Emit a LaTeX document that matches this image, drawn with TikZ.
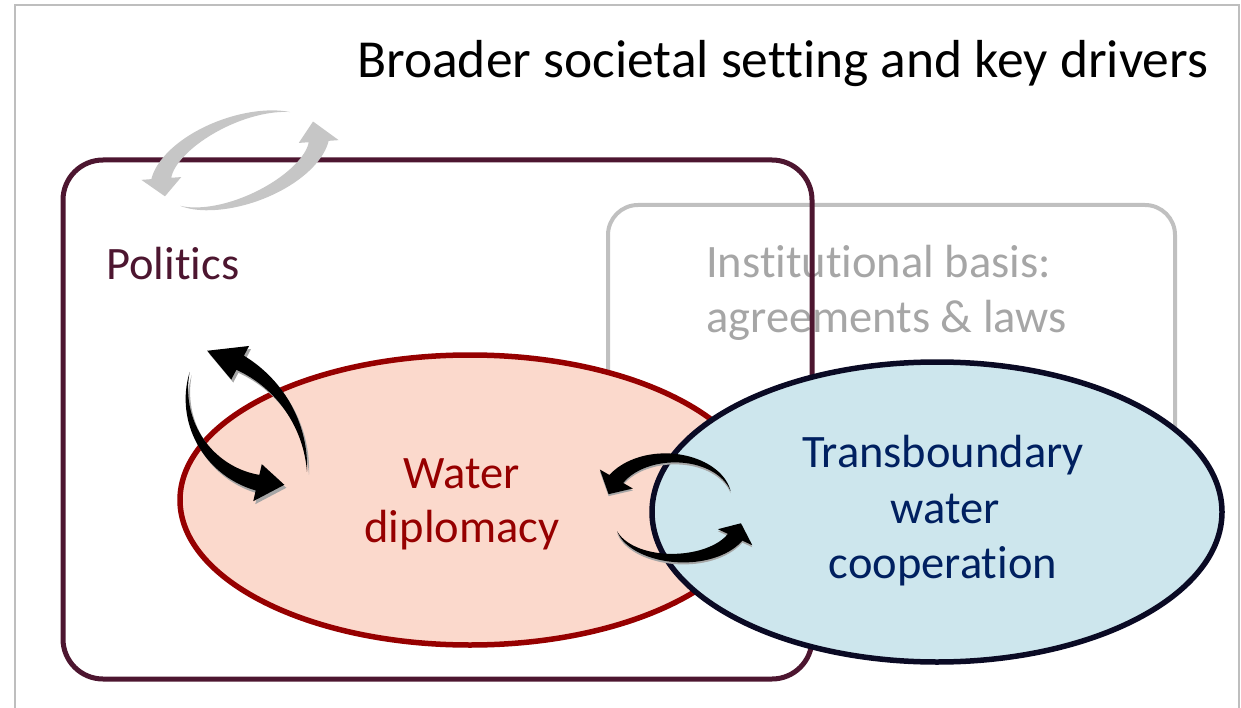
\documentclass[tikz,border=0pt]{standalone}
\usepackage{fontspec}
\setmainfont{Carlito}[Ligatures={NoCommon,NoContextual}]
\usetikzlibrary{shapes.geometric}
\definecolor{polcol}{RGB}{77,22,48}
\definecolor{instcol}{RGB}{192,192,192}
\definecolor{insttext}{RGB}{166,166,166}
\definecolor{pinkfill}{RGB}{251,217,204}
\definecolor{redcol}{RGB}{150,0,0}
\definecolor{bluefill}{RGB}{205,230,237}
\definecolor{navyline}{RGB}{10,10,36}
\definecolor{navytext}{RGB}{0,32,96}
\definecolor{framecol}{RGB}{190,190,190}
\definecolor{arrowgray}{RGB}{198,198,198}
% #1 scope options, #2 rx, #3 ry, #4 tail angle, #5 head base angle, #6 tip angle,
% #7 body half width at head, #8 head half width, #9 fill options
\newcommand{\sweeparrow}[9]{%
  \begin{scope}[#1]
    \fill[#9]
      plot[domain=0:1,samples=40] ({(#2+#7*\x)*cos(#4+(#5-#4)*\x)},{(#3+#7*\x)*sin(#4+(#5-#4)*\x)})
      -- ({(#2+#8)*cos(#5)},{(#3+#8)*sin(#5)})
      -- ({#2*cos(#6)},{#3*sin(#6)})
      -- ({(#2-#8)*cos(#5)},{(#3-#8)*sin(#5)})
      -- plot[domain=0:1,samples=40] ({(#2-#7*(1-\x))*cos(#5+(#4-#5)*\x)},{(#3-#7*(1-\x))*sin(#5+(#4-#5)*\x)})
      -- cycle;
  \end{scope}}
\begin{document}
\begin{tikzpicture}[x=1pt,y=-1pt,
  txt/.style={inner sep=0pt,font=\fontsize{46.5}{55}\selectfont},
  boxpol/.style={draw=polcol,line width=5pt,rounded corners=40pt,rectangle,inner sep=0pt},
  boxinst/.style={draw=instcol,line width=4pt,rounded corners=30pt,rectangle,inner sep=0pt},
  ovl/.style={ellipse,line width=5.5pt,inner sep=0pt}]
\useasboundingbox (0,0) rectangle (1241,708);
% outer frame
\draw[framecol,line width=1.5pt] (15,708) -- (15,5) -- (1239,5) -- (1239,708);
% title
\node[txt,anchor=base west,font=\fontsize{53.5}{64}\selectfont] (title) at (357,78) {Broader societal sett\kern0pt ing and key drivers};
% institutional box
\node[boxinst,minimum width=567pt,minimum height=335pt] (inst) at (891.5,372.5) {};
\node[txt,anchor=base west,text=insttext] (insttxt1) at (706,278) {Inst\kern0pt it\kern0pt ut\kern0pt ional basis:};
\node[txt,anchor=base west,text=insttext] (insttxt2) at (706,332) {agreements \& laws};
% politics box
\node[boxpol,minimum width=749pt,minimum height=519pt] (pol) at (437.5,419.5) {};
\node[txt,anchor=base west,text=polcol] (poltxt) at (106,280) {Polit\kern0pt ics};
% ellipses
\node[ovl,draw=redcol,fill=pinkfill,minimum width=580pt,minimum height=290pt] (wd) at (470,500) {};
\node[ovl,draw=navyline,fill=bluefill,minimum width=570pt,minimum height=300pt] (twc) at (937,512) {};
% texts in ellipses
\node[txt,anchor=base,text=redcol] (wd1) at (462,488) {Water};
\node[txt,anchor=base,text=redcol] (wd2) at (462,542) {diplomacy};
\node[txt,anchor=base,text=navytext] (twc1) at (943,467) {Transboundary};
\node[txt,anchor=base,text=navytext] (twc2) at (945,523) {water};
\node[txt,anchor=base,text=navytext] (twc3) at (943,578) {cooperat\kern0pt ion};
% gray cycle arrows (top left)
\sweeparrow{shift={(240,160)},rotate=22}{84}{40}{-40}{-162}{-188}{10}{20}{arrowgray}
\sweeparrow{shift={(240,160)},rotate=22}{84}{40}{150}{18}{-12}{10}{20}{arrowgray}
% black arrows, politics <-> water diplomacy
\sweeparrow{shift={(183,477)}}{126}{126}{-1}{-62}{-78}{8}{19}{gray!70}
\sweeparrow{shift={(181,474)}}{126}{126}{-1}{-62}{-78}{8}{19}{black}
\sweeparrow{shift={(280,397)}}{91}{91}{194}{103}{86}{8}{19}{gray!70}
\sweeparrow{shift={(278,394)}}{91}{91}{194}{103}{86}{8}{19}{black}
% black arrows, water diplomacy <-> transboundary cooperation
\sweeparrow{shift={(670,502)}}{62}{42}{-12}{-150}{-172}{8}{19}{gray!70}
\sweeparrow{shift={(670,500)}}{62}{42}{-12}{-150}{-172}{8}{19}{black}
\sweeparrow{shift={(678,524)}}{63}{36}{165}{25}{2}{8}{19}{gray!70}
\sweeparrow{shift={(678,522)}}{63}{36}{165}{25}{2}{8}{19}{black}
\end{tikzpicture}
\end{document}
